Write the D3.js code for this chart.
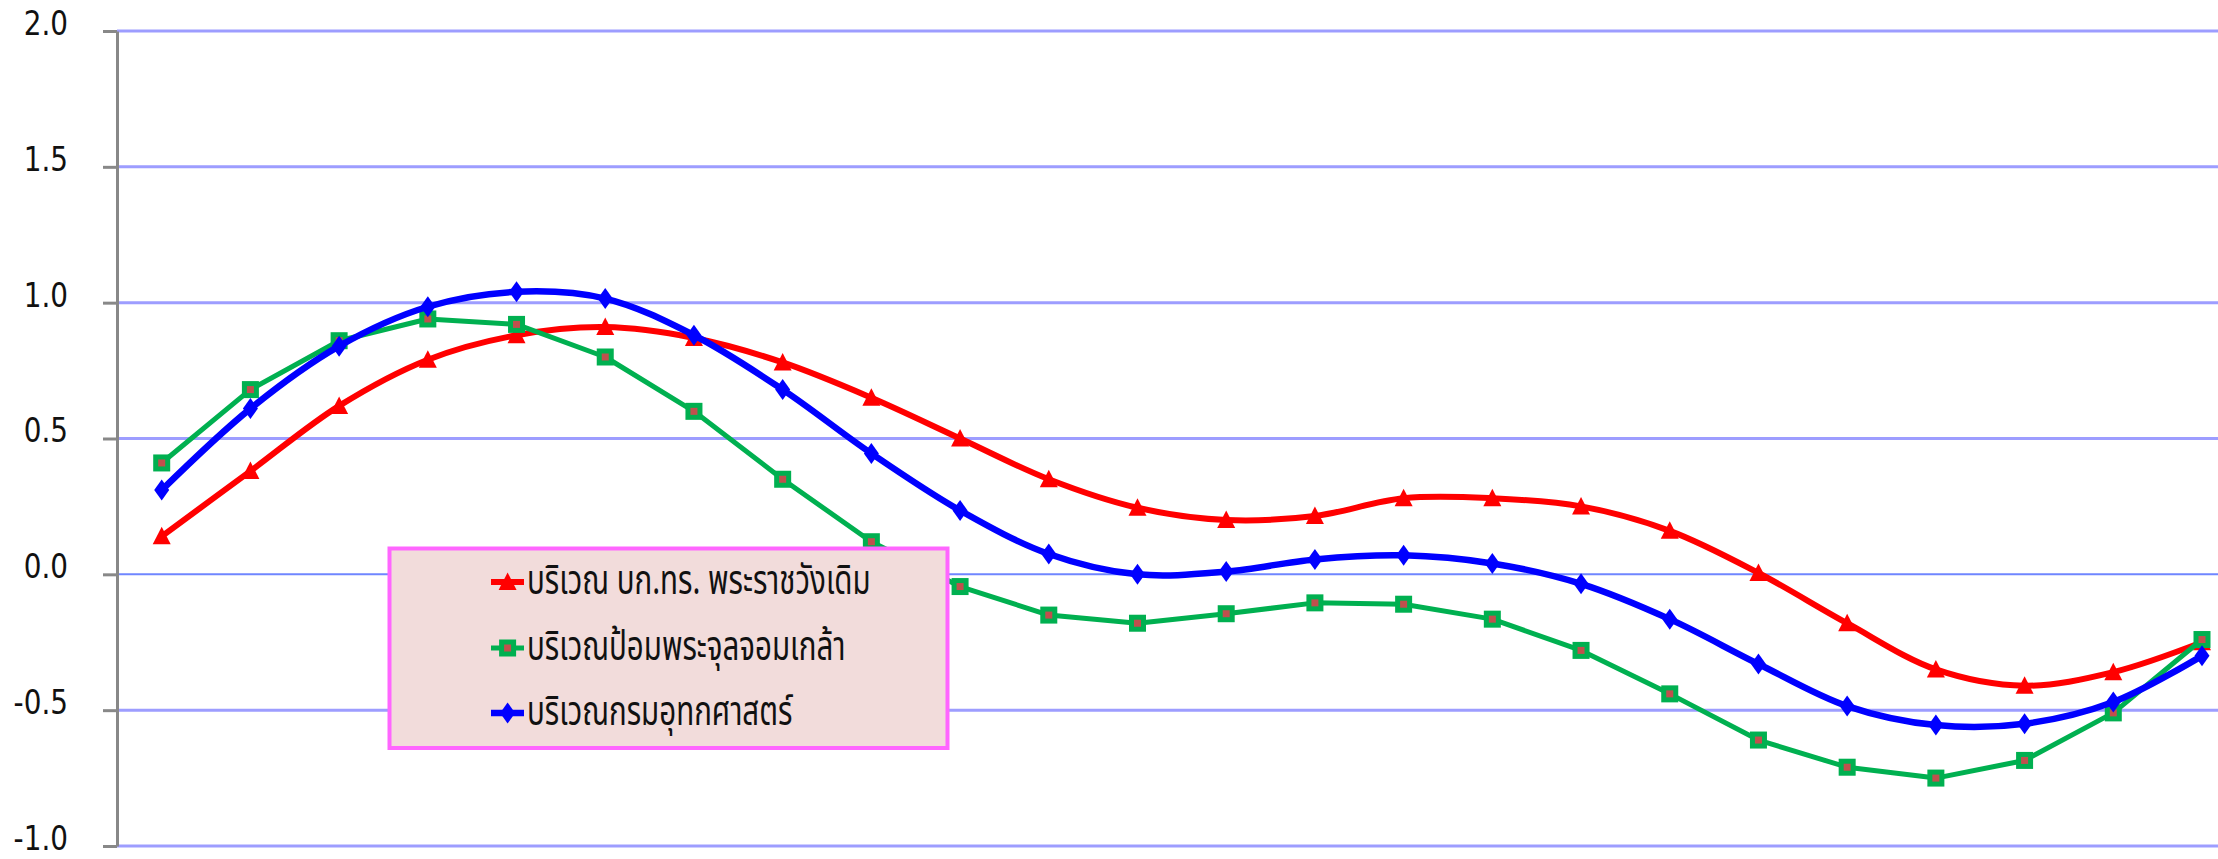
<!DOCTYPE html>
<html>
<head>
<meta charset="utf-8">
<script src="https://cdn.jsdelivr.net/npm/d3@7"></script>
<style>
  html, body { margin: 0; padding: 0; background: #fff; }
  svg { display: block; }
</style>
</head>
<body>
<div id="chart"></div>
<script>
// categories (time steps, no labels shown on the axis)
var steps = [1, 2, 3, 4, 5, 6, 7, 8, 9, 10, 11, 12, 13, 14, 15, 16, 17, 18, 19, 20, 21, 22, 23, 24];

// series values (metres)
var palaceValues = [0.14, 0.38, 0.62, 0.79, 0.88, 0.91, 0.87, 0.78, 0.65, 0.50, 0.35, 0.245, 0.20, 0.215, 0.28, 0.28, 0.25, 0.16, 0.005, -0.18, -0.35, -0.41, -0.36, -0.25];
var fortValues = [0.41, 0.68, 0.86, 0.94, 0.92, 0.80, 0.60, 0.35, 0.12, -0.045, -0.15, -0.18, -0.145, -0.105, -0.11, -0.165, -0.28, -0.44, -0.61, -0.71, -0.75, -0.685, -0.51, -0.24];
var hydroValues = [0.31, 0.61, 0.84, 0.985, 1.04, 1.015, 0.88, 0.68, 0.445, 0.235, 0.075, 0.0, 0.01, 0.055, 0.07, 0.04, -0.035, -0.165, -0.33, -0.485, -0.555, -0.55, -0.47, -0.30];

var seriesNames = ["บริเวณ บก.ทร. พระราชวังเดิม", "บริเวณป้อมพระจุลจอมเกล้า", "บริเวณกรมอุทกศาสตร์"];
var yTicks = [-1.0, -0.5, 0.0, 0.5, 1.0, 1.5, 2.0];

var width = 2218, height = 859;
var axisX = 117;

var series = [
    {name: seriesNames[0], values: palaceValues, color: "#ff0000", width: 6, smooth: true, marker: "triangle"},
    {name: seriesNames[1], values: fortValues, color: "#00b050", width: 5, smooth: false, marker: "square"},
    {name: seriesNames[2], values: hydroValues, color: "#0000ff", width: 6.5, smooth: true, marker: "diamond"}
];

var svg = d3.select("#chart").append("svg")
    .attr("width", width)
    .attr("height", height);

var x = d3.scalePoint()
    .domain(steps)
    .range([161.7, 2202]);

var y = d3.scaleLinear()
    .domain([-1, 2])
    .range([846, 31]);

// gridlines
svg.append("g")
    .attr("class", "grid")
    .selectAll("line")
    .data(yTicks)
    .enter().append("line")
    .attr("x1", axisX)
    .attr("x2", width)
    .attr("y1", function(d) { return y(d); })
    .attr("y2", function(d) { return y(d); })
    .attr("stroke", function(d) { return d === 0 ? "#6f86ff" : "#9d9dff"; })
    .attr("stroke-width", function(d) { return d === 0 ? 2 : 3; });

// y axis
var yAxis = d3.axisLeft(y)
    .tickValues(yTicks)
    .tickFormat(d3.format(".1f"))
    .tickSize(14)
    .tickSizeOuter(0)
    .tickPadding(0);

var axisG = svg.append("g")
    .attr("transform", "translate(" + axisX + ",0)")
    .call(yAxis);

axisG.select(".domain")
    .attr("stroke", "#888888")
    .attr("stroke-width", 3);
axisG.selectAll(".tick line")
    .attr("stroke", "#888888")
    .attr("stroke-width", 3);

// narrow tick labels, like the original
var labelSquash = 0.82;
axisG.selectAll(".tick text")
    .attr("x", -49 / labelSquash)
    .attr("dy", "0.1em")
    .attr("transform", "scale(" + labelSquash + ",1)")
    .attr("fill", "#111")
    .style("font-family", "'Liberation Sans Narrow', 'DejaVu Sans', sans-serif")
    .style("font-size", "34px")
    .text(function(d) { return d3.format(".1f")(d).replace("−", "-"); });

var markerPath = function(type) {
    if (type === "triangle") return "M0,-9.5L9,8L-9,8Z";
    if (type === "diamond") return "M0,-10.5L7.5,0L0,10.5L-7.5,0Z";
    return null;
};

var drawMarker = function(g, s) {
    if (s.marker === "square") {
        g.append("rect")
            .attr("x", -6).attr("y", -6)
            .attr("width", 12).attr("height", 12)
            .attr("fill", "#c0504d")
            .attr("stroke", s.color)
            .attr("stroke-width", 5);
    } else {
        g.append("path")
            .attr("d", markerPath(s.marker))
            .attr("fill", s.color);
    }
};

// lines
series.forEach(function(s) {
    var line = d3.line()
        .x(function(d, i) { return x(steps[i]); })
        .y(function(d) { return y(d); })
        .curve(s.smooth ? d3.curveCatmullRom.alpha(0.5) : d3.curveLinear);

    var g = svg.append("g").attr("class", "series");
    g.append("path")
        .datum(s.values)
        .attr("d", line)
        .attr("fill", "none")
        .attr("stroke", s.color)
        .attr("stroke-width", s.width)
        .attr("stroke-linejoin", "round");

    g.selectAll("g.mark")
        .data(s.values)
        .enter().append("g")
        .attr("class", "mark")
        .attr("transform", function(d, i) {
            return "translate(" + x(steps[i]) + "," + y(d) + ")";
        })
        .each(function() { drawMarker(d3.select(this), s); });
});

// legend
var legend = svg.append("g").attr("class", "legend");
legend.append("rect")
    .attr("x", 389.5)
    .attr("y", 548.5)
    .attr("width", 558)
    .attr("height", 199.5)
    .attr("fill", "#f2dcdb")
    .attr("stroke", "#ff66ff")
    .attr("stroke-width", 4);

var rowY = [582, 648, 713];
var textSquash = 0.72;
series.forEach(function(s, i) {
    var row = legend.append("g")
        .attr("transform", "translate(0," + rowY[i] + ")");
    row.append("line")
        .attr("x1", 491).attr("x2", 524)
        .attr("y1", 0).attr("y2", 0)
        .attr("stroke", s.color)
        .attr("stroke-width", s.width);
    var m = row.append("g").attr("transform", "translate(507.6,0)");
    drawMarker(m, s);
    row.append("text")
        .attr("x", 527 / textSquash)
        .attr("y", 0)
        .attr("dy", "0.3em")
        .attr("transform", "scale(" + textSquash + ",1)")
        .attr("fill", "#111")
        .style("font-family", "'Noto Sans Thai', 'Tahoma', 'DejaVu Sans', sans-serif")
        .style("font-size", "41px")
        .text(s.name);
});
</script>
</body>
</html>
